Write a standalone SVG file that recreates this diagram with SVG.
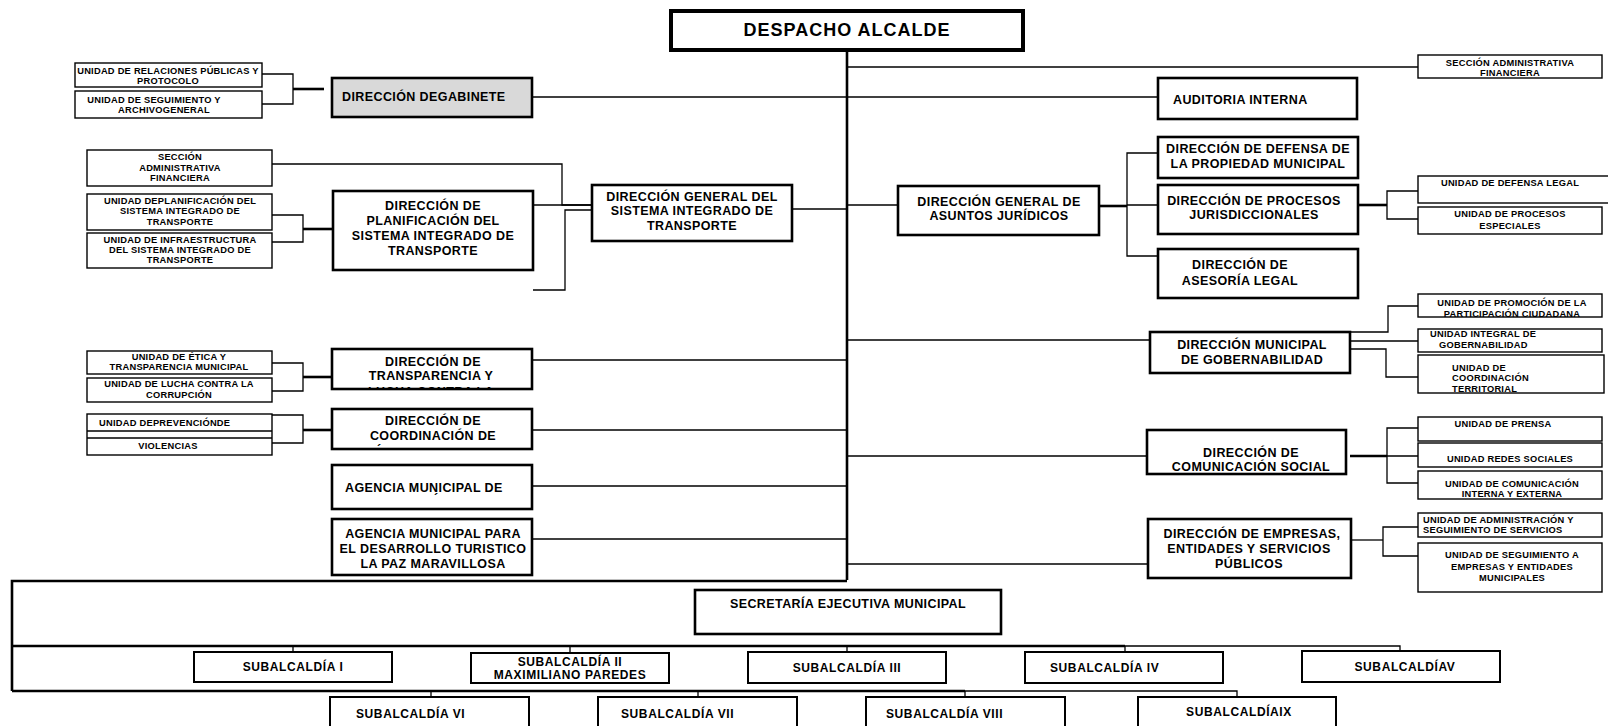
<svg xmlns="http://www.w3.org/2000/svg" width="1608" height="726" viewBox="0 0 1608 726">
<style>
text{font-family:"Liberation Sans",Arial,sans-serif;font-weight:bold;fill:#000}
.m{font-size:12.5px;letter-spacing:.4px}
.mc{font-size:12.5px;letter-spacing:.4px;text-anchor:middle}
.s{font-size:9.3px;letter-spacing:.25px}
.sc{font-size:9.3px;letter-spacing:.25px;text-anchor:middle}
.u{font-size:12px;letter-spacing:.6px}
.uc{font-size:12px;letter-spacing:.6px;text-anchor:middle}
.B{fill:#fff;stroke:#000;stroke-width:2.6}
.S{fill:#fff;stroke:#000;stroke-width:1.4}
.U{fill:#fff;stroke:#000;stroke-width:2}
.c{fill:none;stroke:#000;stroke-width:1.3}
.k{fill:none;stroke:#000;stroke-width:2.6}
</style>
<defs>
<clipPath id="clipT"><rect x="333" y="350" width="198" height="38"/></clipPath>
<clipPath id="clipC"><rect x="333" y="410" width="198" height="38"/></clipPath>
</defs>
<rect width="1608" height="726" fill="#fff"/>

<g id="connectors">
<path class="k" d="M847 43V580" stroke-width="3"/>
<path class="c" d="M847 67H1418"/>
<path class="c" d="M532 97H1158"/>
<path class="c" d="M262 74H293V104H262"/>
<path class="k" d="M293 89H324"/>
<path class="c" d="M272 164H562V205H592"/>
<path class="c" d="M533 205H592"/>
<path class="c" d="M592 210H565V290H533"/>
<path class="c" d="M792 209H847"/>
<path class="c" d="M272 215H303V242H272"/>
<path class="k" d="M303 229H333"/>
<path class="c" d="M847 205H898"/>
<path class="k" d="M1099 206H1127"/>
<path class="c" d="M1158 153H1127V256H1158M1127 205H1158"/>
<path class="k" d="M1358 205H1387"/>
<path class="c" d="M1418 191H1387V219H1418"/>
<path class="c" d="M532 360H847"/>
<path class="c" d="M272 363H303V391H272"/>
<path class="k" d="M303 377H332"/>
<path class="c" d="M532 430H847"/>
<path class="c" d="M272 415H303V443H272"/>
<path class="k" d="M303 430H332"/>
<path class="c" d="M532 486H847"/>
<path class="c" d="M532 539H847"/>
<path class="c" d="M847 340H1150"/>
<path class="c" d="M1350 332H1388V306H1418"/>
<path class="c" d="M1350 341H1418"/>
<path class="c" d="M1350 349H1386V377H1418"/>
<path class="c" d="M847 456H1150"/>
<path class="k" d="M1350 456H1387"/>
<path class="c" d="M1418 428H1387V483H1418M1387 456H1418"/>
<path class="c" d="M847 564H1148"/>
<path class="c" d="M1351 540H1383"/>
<path class="c" d="M1418 527H1383V556H1418"/>
<path class="k" d="M847 581H12V691" stroke-width="3"/>
<path class="k" d="M12 646H1125"/>
<path class="c" d="M1125 646H1400V651"/>
<path class="k" d="M12 691H965"/>
<path class="c" d="M965 691H1237V697"/>
<path class="c" d="M293 646V652M570 646V653M847 646V652M1125 646V652"/>
<path class="c" d="M431 691V697M698 691V697M965 691V697"/>
</g>

<g id="despacho"><rect x="671" y="11" width="352" height="39" fill="#fff" stroke="#000" stroke-width="4"/>
<text x="847" y="36" text-anchor="middle" font-size="18" letter-spacing="1">DESPACHO ALCALDE</text></g>

<g id="gabinete"><rect x="332" y="78" width="200" height="39" fill="#d9d9d9" stroke="#000" stroke-width="2.6"/>
<text class="m" x="342" y="101" font-size="13.5">DIRECCIÓN DEGABINETE</text></g>

<g id="u-relaciones"><rect class="S" x="75" y="63" width="187" height="24"/>
<text class="sc" x="168" y="74">UNIDAD DE RELACIONES PÚBLICAS Y</text>
<text class="sc" x="168" y="83.5">PROTOCOLO</text></g>

<g id="u-seguimiento"><rect class="S" x="75" y="91" width="187" height="27"/>
<text class="sc" x="154" y="103">UNIDAD DE SEGUIMIENTO Y</text>
<text class="sc" x="164" y="113">ARCHIVOGENERAL</text></g>

<g id="auditoria"><rect class="B" x="1158" y="78" width="199" height="41"/>
<text class="m" x="1173" y="104">AUDITORIA INTERNA</text></g>

<g id="seccion-adm-r"><rect class="S" x="1418" y="55" width="184" height="23"/>
<text class="sc" x="1510" y="65.5">SECCIÓN ADMINISTRATIVA</text>
<text class="sc" x="1510" y="76">FINANCIERA</text></g>

<g id="seccion-adm-l"><rect class="S" x="87" y="150" width="185" height="36"/>
<text class="sc" x="180" y="160">SECCIÓN</text>
<text class="sc" x="180" y="170.5">ADMINISTRATIVA</text>
<text class="sc" x="180" y="181">FINANCIERA</text></g>

<g id="u-planificacion"><rect class="S" x="87" y="194" width="185" height="36"/>
<text class="sc" x="180" y="203.5">UNIDAD DEPLANIFICACIÓN DEL</text>
<text class="sc" x="180" y="214">SISTEMA INTEGRADO DE</text>
<text class="sc" x="180" y="225">TRANSPORTE</text></g>

<g id="u-infraestructura"><rect class="S" x="87" y="233" width="185" height="35"/>
<text class="sc" x="180" y="242.5">UNIDAD DE INFRAESTRUCTURA</text>
<text class="sc" x="180" y="252.5">DEL SISTEMA INTEGRADO DE</text>
<text class="sc" x="180" y="263">TRANSPORTE</text></g>

<g id="d-planificacion"><rect class="B" x="333" y="191" width="200" height="79"/>
<text class="mc" x="433" y="209.5">DIRECCIÓN DE</text>
<text class="mc" x="433" y="225">PLANIFICACIÓN DEL</text>
<text class="mc" x="433" y="239.5">SISTEMA INTEGRADO DE</text>
<text class="mc" x="433" y="254.5">TRANSPORTE</text></g>

<g id="dg-sit"><rect class="B" x="592" y="185" width="200" height="56"/>
<text class="mc" x="692" y="200.5">DIRECCIÓN GENERAL DEL</text>
<text class="mc" x="692" y="215">SISTEMA INTEGRADO DE</text>
<text class="mc" x="692" y="230">TRANSPORTE</text></g>

<g id="dg-juridicos"><rect class="B" x="898" y="186" width="201" height="49"/>
<text class="mc" x="999" y="205.5">DIRECCIÓN GENERAL DE</text>
<text class="mc" x="999" y="220">ASUNTOS JURÍDICOS</text></g>

<g id="d-defensa"><rect class="B" x="1158" y="137" width="200" height="41"/>
<text class="mc" x="1258" y="153">DIRECCIÓN DE DEFENSA DE</text>
<text class="mc" x="1258" y="167.5">LA PROPIEDAD MUNICIPAL</text></g>

<g id="d-procesos"><rect class="B" x="1158" y="185" width="200" height="49"/>
<text class="mc" x="1254" y="204.5">DIRECCIÓN DE PROCESOS</text>
<text class="mc" x="1254" y="218.5">JURISDICCIONALES</text></g>

<g id="d-asesoria"><rect class="B" x="1158" y="249" width="200" height="49"/>
<text class="mc" x="1240" y="269">DIRECCIÓN DE</text>
<text class="mc" x="1240" y="284.5">ASESORÍA LEGAL</text></g>

<g id="u-defensa-legal"><rect class="S" x="1418" y="176" width="200" height="27"/>
<text class="sc" x="1510" y="185.5">UNIDAD DE DEFENSA LEGAL</text></g>

<g id="u-procesos-esp"><rect class="S" x="1418" y="207" width="184" height="27"/>
<text class="sc" x="1510" y="216.5">UNIDAD DE PROCESOS</text>
<text class="sc" x="1510" y="228.5">ESPECIALES</text></g>

<g id="u-promocion"><rect class="S" x="1418" y="294" width="184" height="23"/>
<text class="sc" x="1512" y="305.5">UNIDAD DE PROMOCIÓN DE LA</text>
<text class="sc" x="1512" y="316.5">PARTICIPACIÓN CIUDADANA</text></g>

<g id="u-integral"><rect class="S" x="1418" y="329" width="184" height="23"/>
<text class="s" x="1430" y="337">UNIDAD INTEGRAL DE</text>
<text class="s" x="1439" y="348">GOBERNABILIDAD</text></g>

<g id="u-coordinacion"><rect class="S" x="1418" y="355" width="186" height="38"/>
<text class="s" x="1452" y="370.5">UNIDAD DE</text>
<text class="s" x="1452" y="381">COORDINACIÓN</text>
<text class="s" x="1452" y="392">TERRITORIAL</text></g>

<g id="d-gobernabilidad"><rect class="B" x="1150" y="332" width="200" height="41"/>
<text class="mc" x="1252" y="348.5">DIRECCIÓN MUNICIPAL</text>
<text class="mc" x="1252" y="363.5">DE GOBERNABILIDAD</text></g>

<g id="d-comunicacion"><rect class="B" x="1147" y="430" width="199" height="44"/>
<text class="mc" x="1251" y="456.5">DIRECCIÓN DE</text>
<text class="mc" x="1251" y="470.5">COMUNICACIÓN SOCIAL</text></g>

<g id="u-prensa"><rect class="S" x="1418" y="417" width="184" height="24"/>
<text class="sc" x="1503" y="426.5">UNIDAD DE PRENSA</text></g>

<g id="u-redes"><rect class="S" x="1418" y="443" width="184" height="24"/>
<text class="sc" x="1510" y="461.5">UNIDAD REDES SOCIALES</text></g>

<g id="u-com-interna"><rect class="S" x="1418" y="471" width="184" height="28"/>
<text class="sc" x="1512" y="486.5">UNIDAD DE COMUNICACIÓN</text>
<text class="sc" x="1512" y="497">INTERNA Y EXTERNA</text></g>

<g id="d-empresas"><rect class="B" x="1148" y="519" width="203" height="59"/>
<text class="mc" x="1252" y="537.5">DIRECCIÓN DE EMPRESAS,</text>
<text class="mc" x="1249" y="552.5">ENTIDADES Y SERVICIOS</text>
<text class="mc" x="1249" y="567.5">PÚBLICOS</text></g>

<g id="u-admin-seg"><rect class="S" x="1418" y="513" width="184" height="24"/>
<text class="s" x="1423" y="522.5">UNIDAD DE ADMINISTRACIÓN Y</text>
<text class="s" x="1423" y="532.5">SEGUIMIENTO DE SERVICIOS</text></g>

<g id="u-seg-empresas"><rect class="S" x="1418" y="543" width="184" height="49"/>
<text class="sc" x="1512" y="557.5">UNIDAD DE SEGUIMIENTO A</text>
<text class="sc" x="1512" y="569.5">EMPRESAS Y ENTIDADES</text>
<text class="sc" x="1512" y="580.5">MUNICIPALES</text></g>

<g id="u-etica"><rect class="S" x="87" y="351" width="185" height="23"/>
<text class="sc" x="179" y="359.5">UNIDAD DE ÉTICA Y</text>
<text class="sc" x="179" y="370">TRANSPARENCIA MUNICIPAL</text></g>

<g id="u-lucha"><rect class="S" x="87" y="378" width="185" height="24"/>
<text class="sc" x="179" y="387">UNIDAD DE LUCHA CONTRA LA</text>
<text class="sc" x="179" y="398">CORRUPCIÓN</text></g>

<g id="u-prevencion"><rect class="S" x="87" y="414" width="185" height="41"/>
<path class="c" d="M87 431H272M87 438H272" stroke-width="1.2"/>
<text class="s" x="99" y="426">UNIDAD DEPREVENCIÓNDE</text>
<text class="sc" x="168" y="448.5">VIOLENCIAS</text></g>

<g id="d-transparencia"><rect class="B" x="332" y="349" width="200" height="40"/>
<text class="mc" x="433" y="365.5">DIRECCIÓN DE</text>
<text class="mc" x="431" y="380">TRANSPARENCIA Y</text>
<text class="mc" x="431" y="396" clip-path="url(#clipT)">LUCHA CONTRA LA</text></g>

<g id="d-coordinacion"><rect class="B" x="332" y="409" width="200" height="40"/>
<text class="mc" x="433" y="424.5">DIRECCIÓN DE</text>
<text class="mc" x="433" y="439.5">COORDINACIÓN DE</text>
<text class="m" x="377" y="454" clip-path="url(#clipC)">´</text></g>

<g id="agencia"><rect class="B" x="332" y="465" width="200" height="44"/>
<text class="m" x="345" y="491.5">AGENCIA MUNICIPAL DE</text>
<text class="m" x="434" y="503">´</text></g>

<g id="agencia-turismo"><rect class="B" x="332" y="519" width="200" height="56"/>
<text class="mc" x="433" y="537.5">AGENCIA MUNICIPAL PARA</text>
<text class="mc" x="433" y="553">EL DESARROLLO TURISTICO</text>
<text class="mc" x="433" y="567.5">LA PAZ MARAVILLOSA</text></g>

<g id="secretaria"><rect class="B" x="695" y="590" width="306" height="44"/>
<text class="mc" x="848" y="607.5" font-size="13">SECRETARÍA EJECUTIVA MUNICIPAL</text></g>

<g id="sub1"><rect class="U" x="194" y="652" width="198" height="30"/>
<text class="uc" x="293" y="671">SUBALCALDÍA I</text></g>
<g id="sub2"><rect class="U" x="471" y="653" width="198" height="30"/>
<text class="uc" x="570" y="665.5">SUBALCALDÍA II</text>
<text class="uc" x="570" y="679">MAXIMILIANO PAREDES</text></g>
<g id="sub3"><rect class="U" x="748" y="652" width="198" height="31"/>
<text class="uc" x="847" y="671.5">SUBALCALDÍA III</text></g>
<g id="sub4"><rect class="U" x="1025" y="652" width="198" height="31"/>
<text class="u" x="1050" y="671.5">SUBALCALDÍA IV</text></g>
<g id="sub5"><rect class="U" x="1302" y="651" width="198" height="31"/>
<text class="uc" x="1405" y="670.5">SUBALCALDÍAV</text></g>
<g id="sub6"><rect class="U" x="330" y="697" width="199" height="40"/>
<text class="u" x="356" y="718">SUBALCALDÍA VI</text></g>
<g id="sub7"><rect class="U" x="598" y="697" width="199" height="40"/>
<text class="u" x="621" y="718">SUBALCALDÍA VII</text></g>
<g id="sub8"><rect class="U" x="866" y="697" width="199" height="40"/>
<text class="u" x="886" y="718">SUBALCALDÍA VIII</text></g>
<g id="sub9"><rect class="U" x="1138" y="697" width="198" height="40"/>
<text class="uc" x="1239" y="715.5">SUBALCALDÍAIX</text></g>
</svg>
